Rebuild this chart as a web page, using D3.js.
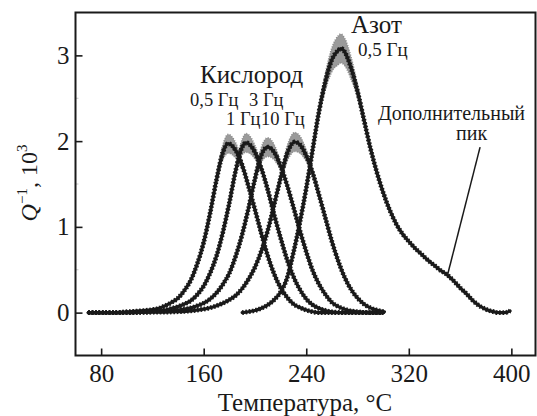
<!DOCTYPE html>
<html>
<head>
<meta charset="utf-8">
<script src="https://cdn.jsdelivr.net/npm/d3@7"></script>
<style>
    body { margin: 0; background: #fff; }
    svg { display: block; font-family: "Liberation Serif", "Times New Roman", serif; }
</style>
</head>
<body>
<div id="chart"></div>
<script>
// tick values
const xTicks = [80, 160, 240, 320, 400];
const yTicks = [0, 1, 2, 3];
const yMinorTicks = [0.5, 1.5, 2.5];

// [temperature °C, Q^-1 x 10^3]
const oxy05 = [[70, 0], [80, 0], [90, 0], [100, 0.01], [110, 0.02], [120, 0.035], [125, 0.05], [130, 0.08],
    [135, 0.12], [140, 0.17], [145, 0.26], [150, 0.38], [155, 0.57], [160, 0.82], [165, 1.16], [170, 1.55],
    [175, 1.87], [179, 1.97], [185, 1.89], [190, 1.72], [195, 1.47], [200, 1.2], [205, 0.92], [210, 0.66],
    [215, 0.45], [220, 0.29], [225, 0.18], [230, 0.1], [235, 0.06], [240, 0.03], [245, 0.01], [250, 0],
    [270, 0], [300, 0]];
const oxy1 = [[70, 0], [90, 0], [110, 0.01], [120, 0.015], [130, 0.03], [135, 0.05], [140, 0.07], [145, 0.1],
    [150, 0.14], [155, 0.21], [160, 0.31], [165, 0.46], [170, 0.66], [175, 0.94], [180, 1.28], [185, 1.66],
    [190, 1.93], [193, 1.98], [200, 1.87], [205, 1.68], [210, 1.43], [215, 1.14], [220, 0.87], [225, 0.62],
    [230, 0.42], [235, 0.27], [240, 0.16], [245, 0.09], [250, 0.05], [255, 0.025], [260, 0.01], [270, 0],
    [300, 0]];
const oxy3 = [[70, 0], [100, 0], [120, 0.01], [130, 0.015], [140, 0.03], [145, 0.04], [150, 0.055], [155, 0.08],
    [160, 0.11], [165, 0.16], [170, 0.23], [175, 0.33], [180, 0.46], [185, 0.66], [190, 0.91], [195, 1.22],
    [200, 1.56], [205, 1.84], [210, 1.93], [215, 1.87], [220, 1.71], [225, 1.49], [230, 1.23], [235, 0.96],
    [240, 0.71], [245, 0.49], [250, 0.33], [255, 0.21], [260, 0.12], [265, 0.07], [270, 0.04], [275, 0.02],
    [280, 0.01], [290, 0], [300, 0]];
const oxy10 = [[70, 0], [100, 0], [120, 0.005], [130, 0.006], [140, 0.011], [150, 0.021], [155, 0.03], [160, 0.04],
    [165, 0.056], [170, 0.08], [175, 0.11], [180, 0.15], [185, 0.2], [190, 0.28], [195, 0.39], [200, 0.53],
    [205, 0.72], [210, 0.96], [215, 1.26], [220, 1.57], [225, 1.85], [231, 1.99], [235, 1.96], [240, 1.83],
    [245, 1.63], [250, 1.37], [255, 1.1], [260, 0.83], [265, 0.6], [270, 0.41], [275, 0.27], [280, 0.17],
    [285, 0.1], [290, 0.055], [295, 0.03], [301, 0.01]];
const nitro05 = [[190, 0], [195, 0.01], [200, 0.025], [205, 0.05], [210, 0.09], [215, 0.15], [220, 0.24],
    [225, 0.4], [230, 0.7], [235, 1.05], [240, 1.45], [245, 1.9], [250, 2.35], [255, 2.7], [260, 2.95],
    [265, 3.06], [267, 3.08], [270, 3.04], [275, 2.85], [280, 2.58], [285, 2.25], [290, 1.92], [295, 1.64],
    [300, 1.4], [305, 1.2], [310, 1.04], [315, 0.92], [320, 0.83], [325, 0.75], [330, 0.68], [335, 0.61],
    [340, 0.55], [345, 0.49], [350, 0.44], [355, 0.37], [360, 0.29], [365, 0.22], [370, 0.14], [375, 0.08],
    [380, 0.04], [385, 0.015], [390, 0], [395, 0], [399, 0.02]];

// error bar half-widths near the peaks [temperature, ±Q]
const oxy05Err = [[170, 0.05], [175, 0.09], [179, 0.11], [185, 0.09], [190, 0.05]];
const oxy1Err = [[185, 0.05], [190, 0.09], [193, 0.11], [200, 0.08], [205, 0.04]];
const oxy3Err = [[200, 0.05], [205, 0.09], [210, 0.11], [215, 0.09], [220, 0.05]];
const oxy10Err = [[220, 0.05], [225, 0.09], [231, 0.11], [235, 0.1], [240, 0.07], [245, 0.04]];
const nitro05Err = [[250, 0.06], [255, 0.1], [260, 0.14], [265, 0.17], [267, 0.17], [270, 0.16], [275, 0.13],
    [280, 0.08], [285, 0.04]];

const series = [
    { data: oxy05, err: oxy05Err },
    { data: oxy1, err: oxy1Err },
    { data: oxy3, err: oxy3Err },
    { data: oxy10, err: oxy10Err },
    { data: nitro05, err: nitro05Err }
];

const width = 537;
const height = 416;
const ink = '#1a1a1a';

const x = d3.scaleLinear().domain([60, 420]).range([75.5, 537]);
const y = d3.scaleLinear().domain([-0.5, 3.5]).range([355.5, 12.5]);

const svg = d3.select('#chart').append('svg')
    .attr('width', width)
    .attr('height', height);

svg.append('rect').attr('width', width).attr('height', height).attr('fill', '#fff');

const plot = svg.append('g');

// grey error bands at the maxima
const band = d3.area()
    .x(d => x(d[0]))
    .y0(d => y(d[1] - d[2]))
    .y1(d => y(d[1] + d[2]))
    .curve(d3.curveMonotoneX);

series.forEach(s => {
    const rows = s.err.map(([t, e]) => {
        const p = s.data.find(d => d[0] === t);
        return [t, p[1], e];
    });
    plot.append('path')
        .attr('d', band(rows))
        .attr('fill', '#9a9a9a')
        .attr('stroke', '#8a8a8a')
        .attr('stroke-width', 1.5)
        .attr('stroke-dasharray', '1 1.5');
});

const line = d3.line()
    .x(d => x(d[0]))
    .y(d => y(d[1]))
    .curve(d3.curveMonotoneX);

series.forEach(s => {
    plot.append('path')
        .attr('d', line(s.data))
        .attr('fill', 'none')
        .attr('stroke', ink)
        .attr('stroke-width', 3.2)
        .attr('stroke-linecap', 'round');
    plot.append('path')
        .attr('d', line(s.data))
        .attr('fill', 'none')
        .attr('stroke', ink)
        .attr('stroke-width', 4.8)
        .attr('stroke-dasharray', '1.6 1.8');
});

// pointer to the extra peak
svg.append('line')
    .attr('x1', x(375.6)).attr('y1', y(1.93))
    .attr('x2', x(350.4)).attr('y2', y(0.45))
    .attr('stroke', ink)
    .attr('stroke-width', 1.5);

// axes, ticks pointing inward
const xAxis = svg.append('g')
    .attr('transform', `translate(0,${y.range()[0]})`)
    .call(d3.axisBottom(x).tickValues(xTicks).tickSizeInner(-7).tickSizeOuter(0).tickPadding(9));

const yAxis = svg.append('g')
    .attr('transform', `translate(${x.range()[0]},0)`)
    .call(d3.axisLeft(y).tickValues(yTicks).tickFormat(d3.format('d'))
        .tickSizeInner(-7).tickSizeOuter(0).tickPadding(6));

[xAxis, yAxis].forEach(g => {
    g.select('.domain').remove();
    g.selectAll('line').attr('stroke', ink).attr('stroke-width', 1.6);
    g.selectAll('text')
        .attr('fill', ink)
        .attr('font-family', '"Liberation Serif", "Times New Roman", serif')
        .attr('font-size', 25);
});

svg.append('g')
    .selectAll('line')
    .data(yMinorTicks)
    .join('line')
    .attr('x1', x.range()[0]).attr('x2', x.range()[0] + 3)
    .attr('y1', d => y(d)).attr('y2', d => y(d))
    .attr('stroke', '#c8c8c8')
    .attr('stroke-width', 1);

svg.append('rect')
    .attr('x', 75.5).attr('y', 12.5)
    .attr('width', 535.5 - 75.5).attr('height', 343)
    .attr('fill', 'none')
    .attr('stroke', ink)
    .attr('stroke-width', 2);

// axis titles
svg.append('text')
    .attr('x', 305).attr('y', 411)
    .attr('text-anchor', 'middle')
    .attr('font-size', 25)
    .attr('fill', ink)
    .text('Температура, °C');

const yTitle = svg.append('text')
    .attr('transform', 'translate(37,183) rotate(-90)')
    .attr('text-anchor', 'middle')
    .attr('font-size', 24)
    .attr('fill', ink);
yTitle.append('tspan').attr('font-style', 'italic').text('Q');
yTitle.append('tspan').attr('font-size', 15).attr('dy', -10).text('\u22121');
yTitle.append('tspan').attr('dy', 10).text(', 10');
yTitle.append('tspan').attr('font-size', 15).attr('dy', -10).text('3');

// labels
const labels = [
    { text: 'Кислород', x: 200, y: 83, size: 25 },
    { text: '0,5 Гц', x: 190, y: 106, size: 18.5 },
    { text: '3 Гц', x: 249, y: 106, size: 18.5 },
    { text: '1 Гц', x: 226, y: 125, size: 18.5 },
    { text: '10 Гц', x: 261, y: 125, size: 18.5 },
    { text: 'Азот', x: 351, y: 33, size: 25 },
    { text: '0,5 Гц', x: 358, y: 56, size: 19 },
    { text: 'Дополнительный', x: 378, y: 120, size: 20 },
    { text: 'пик', x: 456, y: 140, size: 20 }
];

svg.append('g')
    .selectAll('text')
    .data(labels)
    .join('text')
    .attr('x', d => d.x)
    .attr('y', d => d.y)
    .attr('font-size', d => d.size)
    .attr('fill', ink)
    .text(d => d.text);
</script>
</body>
</html>
